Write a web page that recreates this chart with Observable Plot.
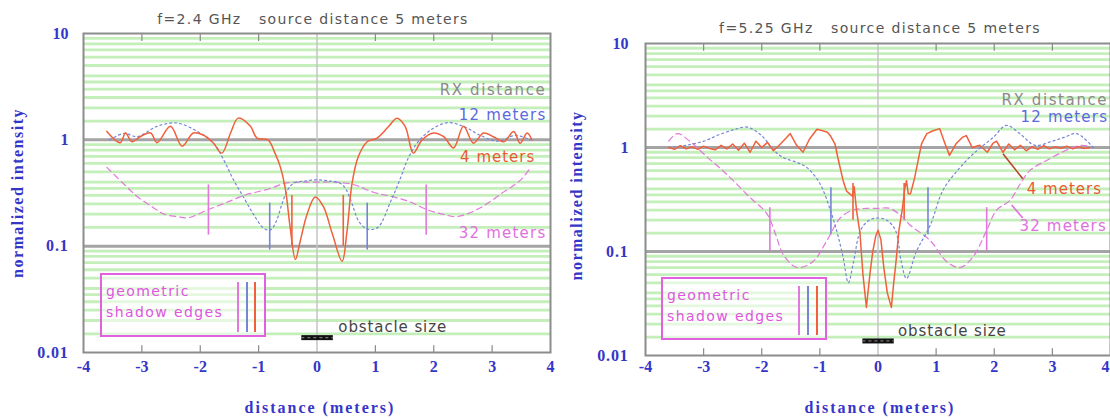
<!DOCTYPE html>
<html><head><meta charset="utf-8">
<script src="https://cdn.jsdelivr.net/npm/d3@7"></script>
<script src="https://cdn.jsdelivr.net/npm/@observablehq/plot@0.6"></script>
<style>
html,body{margin:0;padding:0;background:#fff;}
#wrap{position:relative;width:1110px;height:419px;overflow:hidden;}
.panel{position:absolute;top:0;}
.legend{position:absolute;border:2px solid #e060e0;box-sizing:border-box;font-family:"DejaVu Sans";color:#e055e0;font-size:14px;letter-spacing:1.4px;line-height:21px;padding:6px 0 0 4px;background:rgba(255,255,255,0.55);}
.vl{position:absolute;width:1.6px;}
svg text{white-space:pre;}
</style>
</head><body><div id="wrap"></div>
<script>
// ---- axes / grid ----
const xTicks = [-4,-3,-2,-1,0,1,2,3,4];
const innerTicks = [-3,-2,-1,1,2,3];
const yTicks = [0.01,0.1,1,10];
const yTickLabels = ["0.01","0.1","1","10"];
const decades = [0.01,0.1,1];
const gridMultipliers = [1.5,2,2.5,3,3.5,4,5,6,7,8,9];
const obstacleX = [-0.26, 0.28];
const obstacleY = 0.0138;

// ---- f = 2.4 GHz ----
const r4X_24 = [-3.6,-3.37,-3.28,-3.17,-3.03,-2.85,-2.74,-2.51,-2.31,-2.12,-1.95,-1.78,-1.63,-1.48,-1.35,-1.14,-1.03,-0.84,-0.72,-0.63,-0.54,-0.46,-0.37,-0.29,-0.17,-0.03,0.11,0.26,0.43,0.51,0.6,0.71,0.86,1.03,1.23,1.37,1.51,1.65,1.8,2.0,2.17,2.34,2.51,2.68,2.85,3.02,3.2,3.37,3.48,3.6,3.68];
const r4Y_24 = [1.2,0.94,1.16,0.96,1.07,1.16,0.94,1.34,0.87,1.16,1.11,0.94,0.75,1.16,1.6,1.34,1.04,1.0,0.75,0.56,0.34,0.15,0.075,0.11,0.2,0.29,0.235,0.132,0.072,0.132,0.39,0.7,0.96,1.04,1.34,1.6,1.34,0.75,1.0,1.16,1.07,0.84,1.34,0.93,1.16,1.07,0.96,1.2,0.93,1.16,1.0];
const b12X_24 = [-3.55,-3.3,-3.08,-2.74,-2.4,-2.05,-1.77,-1.6,-1.43,-1.26,-1.09,-0.91,-0.8,-0.7,-0.6,-0.5,-0.4,-0.2,0,0.2,0.4,0.5,0.6,0.72,0.86,1.04,1.27,1.44,1.55,1.72,1.95,2.24,2.52,2.8,3.1,3.4,3.65];
const b12Y_24 = [1.0,1.15,1.07,1.34,1.44,1.2,0.93,0.65,0.42,0.29,0.2,0.147,0.142,0.17,0.25,0.34,0.39,0.41,0.42,0.41,0.39,0.34,0.25,0.17,0.145,0.15,0.27,0.45,0.65,0.94,1.24,1.45,1.33,1.1,0.97,1.1,1.0];
const p32X_24 = [-3.6,-3.3,-3.07,-2.8,-2.62,-2.4,-2.21,-1.87,-1.53,-1.25,-0.79,-0.56,-0.3,0,0.3,0.62,0.98,1.32,1.6,1.89,2.15,2.41,2.8,3.15,3.49,3.66];
const p32Y_24 = [0.55,0.38,0.29,0.23,0.2,0.19,0.185,0.22,0.26,0.3,0.35,0.39,0.4,0.4,0.4,0.38,0.32,0.29,0.26,0.22,0.2,0.19,0.23,0.31,0.42,0.55];
const edgeX_24 = {r4: [-0.43, 0.45], b12: [-0.81, 0.86], p32: [-1.86, 1.87]};
const edgeY_24 = {r4: [0.1, 0.3], b12: [0.092, 0.254], p32: [0.127, 0.377]};

// ---- f = 5.25 GHz ----
const r4X_525 = [-3.6,-3.5,-3.4,-3.3,-3.2,-3.1,-3.0,-2.9,-2.8,-2.7,-2.6,-2.5,-2.4,-2.3,-2.2,-2.1,-2.0,-1.9,-1.8,-1.7,-1.6,-1.51,-1.4,-1.29,-1.18,-1.05,-0.95,-0.87,-0.82,-0.74,-0.68,-0.6,-0.54,-0.49,-0.44,-0.41,-0.37,-0.31,-0.26,-0.2,-0.14,-0.09,-0.04,0.0,0.05,0.1,0.16,0.23,0.27,0.31,0.36,0.42,0.46,0.49,0.52,0.56,0.63,0.7,0.75,0.84,0.95,1.06,1.15,1.23,1.35,1.45,1.52,1.62,1.75,1.88,1.98,2.04,2.15,2.25,2.35,2.45,2.55,2.65,2.75,2.85,2.95,3.05,3.15,3.25,3.35,3.45,3.55,3.64];
const r4Y_525 = [1.0,0.96,1.04,0.97,1.02,0.96,1.03,0.98,0.95,1.05,0.97,1.08,0.94,1.1,0.9,1.15,1.0,1.12,0.93,1.05,1.2,1.36,1.05,0.9,1.2,1.5,1.45,1.4,1.3,1.08,0.75,0.48,0.38,0.36,0.34,0.42,0.25,0.15,0.061,0.029,0.06,0.1,0.14,0.16,0.13,0.07,0.04,0.029,0.05,0.08,0.16,0.26,0.4,0.48,0.36,0.36,0.51,0.8,1.09,1.36,1.45,1.52,1.1,0.84,1.1,1.25,1.3,1.0,1.05,0.9,1.1,1.15,0.9,1.08,0.95,1.05,0.93,1.02,0.96,1.04,0.97,1.02,0.98,1.03,0.97,1.02,0.98,1.0];
const b12X_525 = [-3.6,-3.3,-3.0,-2.7,-2.45,-2.25,-2.0,-1.8,-1.63,-1.4,-1.22,-1.0,-0.82,-0.7,-0.6,-0.51,-0.42,-0.3,-0.15,0,0.15,0.3,0.4,0.49,0.66,0.9,1.12,1.41,1.64,1.98,2.21,2.44,2.7,3.0,3.2,3.42,3.7];
const b12Y_525 = [1.0,1.05,1.15,1.35,1.5,1.57,1.3,0.95,0.8,0.72,0.64,0.45,0.25,0.15,0.088,0.05,0.08,0.16,0.2,0.21,0.2,0.16,0.08,0.055,0.1,0.18,0.39,0.64,0.87,1.25,1.63,1.36,1.05,1.15,1.25,1.36,1.0];
const p32X_525 = [-3.6,-3.45,-3.2,-2.93,-2.7,-2.49,-2.2,-1.91,-1.75,-1.63,-1.39,-1.12,-0.88,-0.65,-0.43,-0.2,0,0.2,0.4,0.55,0.9,1.18,1.41,1.63,1.87,2.04,2.27,2.45,2.61,2.9,3.24,3.5,3.7];
const p32Y_525 = [1.15,1.36,1.1,0.8,0.62,0.48,0.33,0.23,0.14,0.093,0.07,0.08,0.127,0.21,0.25,0.26,0.26,0.26,0.22,0.18,0.127,0.08,0.07,0.088,0.16,0.25,0.31,0.45,0.6,0.75,0.94,1.05,1.0];
const edgeX_525 = {r4: [-0.43, 0.45], b12: [-0.81, 0.86], p32: [-1.86, 1.87]};
const edgeY_525 = {r4: [0.2, 0.45], b12: [0.145, 0.41], p32: [0.101, 0.264]};

const C = {r4: "#f0603c", b12: "#7585d8", p32: "#e277dc", blue: "#3535c8"};
const pts = (xs, ys) => xs.map((x, i) => ({x, y: ys[i]}));

function panel(cfg) {
  const minor = decades.flatMap(d => gridMultipliers.map(m => +(d * m).toPrecision(3)));
  const txt = (a, o) => Plot.text([a], {x: a.x, y: a.y, text: d => d.t, fontSize: 15, fontFamily: "DejaVu Sans", lineAnchor: "middle", ...o});
  const axisOpts = {tickSize: 0, tickPadding: cfg.xpad, tickFormat: d => String(d), fill: C.blue, fontFamily: "Liberation Serif", fontWeight: "bold", fontSize: 16, label: null};
  return Plot.plot({
    width: 555, height: 419,
    marginLeft: cfg.ml, marginRight: cfg.mr, marginTop: cfg.mt, marginBottom: cfg.mb,
    x: {domain: [-4, 4]},
    y: {type: "log", domain: [0.01, 10]},
    style: {fontFamily: "DejaVu Sans", background: "transparent", overflow: "visible"},
    marks: [
      Plot.ruleY(minor, {stroke: "#c4efba", strokeWidth: 2.8}),
      Plot.ruleY([0.1, 1], {stroke: "#a4a4a4", strokeWidth: 3}),
      Plot.ruleX([0], {stroke: "#c4c4c4", strokeWidth: 1.5}),
      Plot.ruleX(innerTicks, {y1: 10, y2: 8.4, stroke: "#888", strokeWidth: 1.2}),
      Plot.ruleX(innerTicks, {y1: 0.01, y2: 0.0116, stroke: "#888", strokeWidth: 1.2}),
      Plot.frame({stroke: "#8c8c8c", strokeWidth: 2}),
      Plot.axisX({ticks: xTicks.slice(0, -1), ...axisOpts}),
      Plot.axisX({ticks: xTicks.slice(-1), ...axisOpts, dx: cfg.lastdx}),
      Plot.axisY({ticks: yTicks, tickSize: 0, tickPadding: cfg.ypad, tickFormat: d => yTickLabels[yTicks.indexOf(d)], fill: C.blue, fontFamily: "Liberation Serif", fontWeight: "bold", fontSize: 16, label: null}),
      // shadow edges
      ...["p32", "b12", "r4"].map(k => Plot.ruleX(cfg.edgeX[k], {y1: cfg.edgeY[k][0], y2: cfg.edgeY[k][1], stroke: C[k], strokeWidth: 1.6})),
      // curves
      Plot.line(pts(cfg.p32X, cfg.p32Y), {x: "x", y: "y", stroke: C.p32, strokeWidth: 1.2, strokeDasharray: "6,4", curve: "catmull-rom"}),
      Plot.line(pts(cfg.b12X, cfg.b12Y), {x: "x", y: "y", stroke: C.b12, strokeWidth: 1.2, strokeDasharray: "2,3", curve: "catmull-rom"}),
      Plot.line(pts(cfg.r4X, cfg.r4Y), {x: "x", y: "y", stroke: C.r4, strokeWidth: 1.5, curve: cfg.r4curve}),
      // obstacle
      Plot.ruleY([obstacleY], {x1: obstacleX[0], x2: obstacleX[1], stroke: "#111", strokeWidth: 5}),
      Plot.ruleY([obstacleY], {x1: obstacleX[0], x2: obstacleX[1], stroke: "#777", strokeWidth: 1.2, strokeDasharray: "3,3"}),
      // leaders
      ...cfg.leaders.map(l => Plot.link([l], {x1: l.x1, y1: l.y1, x2: l.x2, y2: l.y2, stroke: l.c, strokeWidth: 1.6})),
      // labels
      ...cfg.notes.map(a => txt(a, {fill: a.c, textAnchor: a.a})),
      Plot.text([cfg.title], {frameAnchor: "top", dy: cfg.tdy, dx: cfg.tdx, text: d => d, fill: "#555", fontSize: 14, fontFamily: "DejaVu Sans", lineAnchor: "middle", textAnchor: "middle"}),
      Plot.text(["normalized intensity"], {frameAnchor: "left", dx: cfg.ylx, dy: cfg.yly, rotate: -90, text: d => d, fill: C.blue, fontSize: 16, fontWeight: "bold", fontFamily: "Liberation Serif", lineAnchor: "middle", textAnchor: "middle"}),
      Plot.text(["distance (meters)"], {frameAnchor: "bottom", dy: cfg.xly, dx: cfg.xlx, text: d => d, fill: C.blue, fontSize: 16, fontWeight: "bold", fontFamily: "Liberation Serif", lineAnchor: "middle", textAnchor: "middle"})
    ]
  });
}

// letter-spacing applied to rendered texts (the reference's lettering is wide)
const spacing = {
  "normalized intensity": 1.5, "distance (meters)": 2,
  "RX distance": 1.6, "12 meters": 1.2, "32 meters": 1.2, "4 meters": 1.0, "obstacle size": 0.9,
  "0.01": 0.8, "0.1": 0.8
};
function applySpacing(svg) {
  d3.select(svg).selectAll("text").each(function() {
    const t = this.textContent;
    if (t.startsWith("f=")) this.setAttribute("letter-spacing", 1.35);
    else if (spacing[t] != null) this.setAttribute("letter-spacing", spacing[t]);
  });
}

const wrap = document.getElementById("wrap");
const left = panel({
  ml: 83, mr: 5, mt: 33, mb: 67, xpad: 8, ypad: 15, lastdx: 0,
  r4X: r4X_24, r4Y: r4Y_24, b12X: b12X_24, b12Y: b12Y_24, p32X: p32X_24, p32Y: p32Y_24,
  edgeX: edgeX_24, edgeY: edgeY_24, r4curve: "catmull-rom",
  title: "f=2.4 GHz   source distance 5 meters", tdy: -14, tdx: -4,
  ylx: -66, yly: 0, xly: 55, xlx: 3,
  leaders: [],
  notes: [
    {t: "RX distance", x: 3.93, y: 2.96, c: "#8a8a8a", a: "end"},
    {t: "12 meters", x: 3.93, y: 1.72, c: "#5a6ae0", a: "end"},
    {t: "4 meters", x: 3.74, y: 0.69, c: "#e85a30", a: "end"},
    {t: "32 meters", x: 3.93, y: 0.133, c: "#e070e0", a: "end"},
    {t: "obstacle size", x: 0.365, y: 0.0172, c: "#444", a: "start"}
  ]
});
const right = panel({
  ml: 90, mr: 0, mt: 43, mb: 64, xpad: 5, ypad: 17, lastdx: -5,
  r4X: r4X_525, r4Y: r4Y_525, b12X: b12X_525, b12Y: b12Y_525, p32X: p32X_525, p32Y: p32Y_525,
  edgeX: edgeX_525, edgeY: edgeY_525, r4curve: "linear",
  title: "f=5.25 GHz   source distance 5 meters", tdy: -15, tdx: 2,
  ylx: -69, yly: -4, xly: 52, xlx: 2,
  leaders: [
    {x1: 2.15, y1: 0.87, x2: 2.49, y2: 0.5, c: "#b8452a"},
    {x1: 2.3, y1: 0.28, x2: 2.49, y2: 0.21, c: "#e070e0"}
  ],
  notes: [
    {t: "RX distance", x: 3.96, y: 2.84, c: "#8a8a8a", a: "end"},
    {t: "12 meters", x: 3.96, y: 1.95, c: "#5a6ae0", a: "end"},
    {t: "4 meters", x: 2.56, y: 0.40, c: "#e85a30", a: "start"},
    {t: "32 meters", x: 3.94, y: 0.177, c: "#e070e0", a: "end"},
    {t: "obstacle size", x: 0.343, y: 0.0172, c: "#444", a: "start"}
  ]
});
applySpacing(left); applySpacing(right);
left.classList.add("panel"); left.style.left = "0px";
right.classList.add("panel"); right.style.left = "555px";
wrap.append(left, right);

// legends (HTML overlays)
function legend(l, t, w, h, lx) {
  const d = document.createElement("div");
  d.className = "legend";
  Object.assign(d.style, {left: l + "px", top: t + "px", width: w + "px", height: h + "px"});
  d.innerHTML = "geometric<br>shadow edges";
  wrap.append(d);
  [C.p32, C.b12, C.r4].forEach((c, i) => {
    const v = document.createElement("div");
    v.className = "vl";
    Object.assign(v.style, {left: (lx[i]) + "px", top: (t + 9) + "px", height: (h - 14) + "px", background: c});
    wrap.append(v);
  });
}
legend(100, 273, 166, 64, [237, 246, 254]);
legend(661, 277, 166, 63, [798, 807, 816]);
</script></body></html>
